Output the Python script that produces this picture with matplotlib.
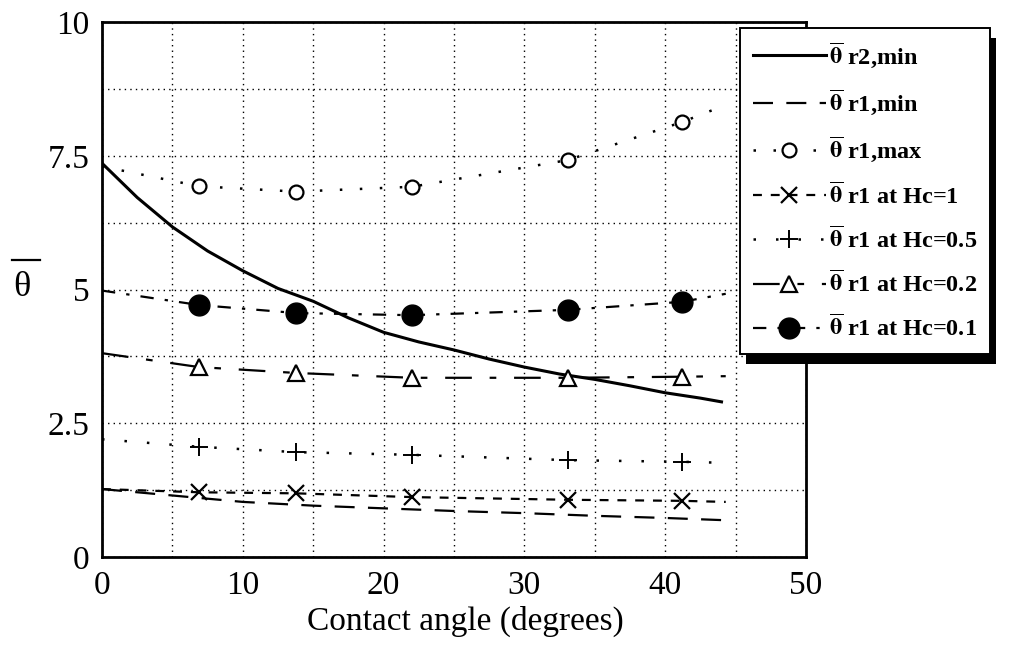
import matplotlib
matplotlib.use("Agg")
import matplotlib.pyplot as plt
from matplotlib.ticker import MultipleLocator
from matplotlib.patches import Rectangle
from matplotlib.transforms import IdentityTransform
from matplotlib.lines import Line2D

plt.rcParams['font.family'] = ['Liberation Serif', 'DejaVu Serif']
plt.rcParams['mathtext.fontset'] = 'stix'

# ---------------------------------------------------------------------------
# data
# ---------------------------------------------------------------------------
x_r2 = [0, 2.5, 5, 7.5, 10, 12.5, 15, 17.5, 20, 22.5, 25, 27.5, 30, 32.5,
        35, 37.5, 40, 42.5, 44]
r2_min = [7.36, 6.72, 6.17, 5.72, 5.35, 5.02, 4.78, 4.47, 4.20, 4.02, 3.87,
          3.70, 3.55, 3.42, 3.32, 3.20, 3.07, 2.97, 2.90]

x_r1min = [0, 5, 10, 15, 20, 25, 30, 35, 40, 44]
r1_min = [1.27, 1.15, 1.03, 0.96, 0.91, 0.86, 0.82, 0.77, 0.73, 0.69]

# marker series: line start (x=0), five computed points, line end
x_pts = [0, 6.9, 13.8, 22.0, 33.1, 41.2, 44.3]
r1_max = [7.30, 6.93, 6.83, 6.92, 7.42, 8.13, 8.45]
r1_hc1 = [1.27, 1.21, 1.19, 1.12, 1.07, 1.05, 1.03]
r1_hc05 = [2.20, 2.06, 1.96, 1.91, 1.81, 1.78, 1.76]
r1_hc02 = [3.81, 3.55, 3.44, 3.35, 3.35, 3.37, 3.38]
r1_hc01 = [4.98, 4.71, 4.56, 4.52, 4.62, 4.77, 4.92]

TH = r'$\overline{\mathbf{\theta}}$'
labels = [TH + ' r2,min',
          TH + ' r1,min',
          TH + ' r1,max',
          TH + ' r1 at Hc=1',
          TH + ' r1 at Hc=0.5',
          TH + ' r1 at Hc=0.2',
          TH + ' r1 at Hc=0.1']

xticks = [0, 10, 20, 30, 40, 50]
yticks = [0, 2.5, 5, 7.5, 10]
ytick_labels = ['0', '2.5', '5', '7.5', '10']

# ---------------------------------------------------------------------------
# figure
# ---------------------------------------------------------------------------
fig = plt.figure(figsize=(10.1, 6.55), dpi=100)
ax = fig.add_axes([0.101, 0.1496, 0.697, 0.8168])

mk = [1, 2, 3, 4, 5]
ax.plot(x_r2, r2_min, color='black', lw=2.2, ls='-', label=labels[0])
ax.plot(x_r1min, r1_min, color='black', lw=1.6, ls=(0, (9, 6)), label=labels[1])
ax.plot(x_pts, r1_max, color='black', lw=1.8, ls=(0, (1, 7)), marker='o',
        markevery=mk, ms=10, mfc='white', mec='black', mew=1.6, label=labels[2])
ax.plot(x_pts, r1_hc1, color='black', lw=1.6, ls=(0, (4, 4)), marker='x',
        markevery=mk, ms=11, mew=1.6, label=labels[3])
ax.plot(x_pts, r1_hc05, color='black', lw=1.8, ls=(0, (1, 8)), marker='+',
        markevery=mk, ms=13, mew=1.4, label=labels[4])
ax.plot(x_pts, r1_hc02, color='black', lw=1.6, ls=(0, (12, 8, 3, 8)), marker='^',
        markevery=mk, ms=11, mfc='white', mec='black', mew=1.6, label=labels[5])
ax.plot(x_pts, r1_hc01, color='black', lw=1.6, ls=(0, (6, 5, 1.5, 5)), marker='o',
        markevery=mk, ms=15, mfc='black', mec='black', label=labels[6])

ax.set_xlim(0, 50)
ax.set_ylim(0, 10)
ax.set_xticks(xticks)
ax.set_yticks(yticks)
ax.set_yticklabels(ytick_labels)
ax.xaxis.set_minor_locator(MultipleLocator(5))
ax.yaxis.set_minor_locator(MultipleLocator(1.25))
ax.grid(which='both', color='black', lw=1.0, ls=(0, (1, 3)))
ax.tick_params(which='both', length=0)
ax.tick_params(axis='x', pad=10, labelsize=24)
ax.tick_params(axis='y', pad=9, labelsize=24)
for s in ax.spines.values():
    s.set_linewidth(2.0)

ax.set_xlabel('Contact angle (degrees)', fontsize=24, labelpad=3)
ax.xaxis.label.set_x(0.516)

# y label: upright theta with a bar above it
ax.text(-0.114, 0.503, 'θ', transform=ax.transAxes, fontsize=26,
        ha='center', va='center')
ax.add_line(Line2D([-0.128, -0.088], [0.555, 0.555], transform=ax.transAxes,
                   color='black', lw=1.6, clip_on=False))

leg = ax.legend(loc='upper left', bbox_to_anchor=(0.7327, 0.9573),
                bbox_transform=fig.transFigure, borderaxespad=0,
                prop={'weight': 'bold', 'size': 17.5}, handlelength=3.0,
                handletextpad=0.15, labelspacing=0.75, borderpad=0.52,
                fancybox=False, framealpha=1, edgecolor='black')
leg.get_frame().set_linewidth(1.4)
leg.set_zorder(6)

# thick drop shadow behind the legend box
fig.canvas.draw()
bb = leg.get_window_extent()
shadow = Rectangle((bb.x0 + 6, bb.y0 - 10), bb.width, bb.height,
                   transform=IdentityTransform(), facecolor='black',
                   edgecolor='none', zorder=5.5, clip_on=False)
ax.add_patch(shadow)

fig.savefig('out.png', dpi=100)
